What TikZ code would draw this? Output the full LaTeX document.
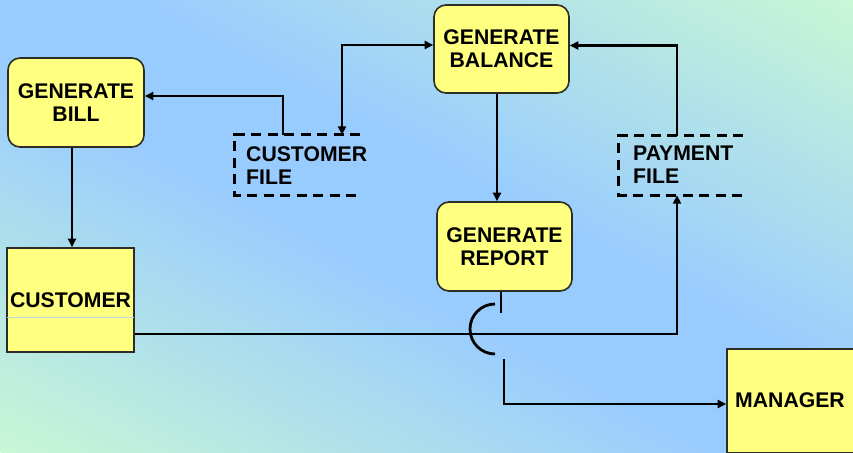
\documentclass[tikz,border=0pt]{standalone}
\usepackage{fontspec}
\setmainfont{Liberation Sans}
\usetikzlibrary{arrows.meta,calc}

\definecolor{bgblue}{RGB}{153,204,254}
\definecolor{bggreen}{RGB}{200,248,212}
\definecolor{boxfill}{RGB}{255,255,128}
\definecolor{boxline}{RGB}{45,45,40}
\definecolor{divider}{RGB}{185,222,228}

\tikzset{
  process/.style={draw=boxline, line width=1.6pt, fill=boxfill, rounded corners=12pt,
    align=center, inner sep=0pt},
  entity/.style={draw=boxline, line width=1.6pt, fill=boxfill, align=center, inner sep=0pt},
  storeframe/.style={inner sep=0pt},
  storetext/.style={align=left, anchor=west, inner sep=0pt},
  dashframe/.style={line width=2.8pt, dash pattern=on 10pt off 6.5pt},
  conn/.style={line width=2.8pt, -{Triangle[length=8.5pt,width=8pt]}},
  twoway/.style={line width=2.8pt, {Triangle[length=8.5pt,width=8pt]}-{Triangle[length=8.5pt,width=8pt]}},
  link/.style={line width=2.8pt}
}

\begin{document}
\begin{tikzpicture}[x=1pt, y=-1pt, font=\bfseries\fontsize{21.2}{23}\selectfont]
  \useasboundingbox (0,0) rectangle (853,452);

  % diagonal background gradient: green in the lower-left and upper-right
  % corners, blue along the other diagonal (built from thin bands)
  \begin{scope}
    \clip (0,0) rectangle (853,452);
    \foreach \i in {0,...,99}{
      \pgfmathsetmacro\ta{\i/100}
      \pgfmathsetmacro\tb{(\i+1.6)/100}
      \pgfmathsetmacro\tm{(\i+0.5)/100}
      \pgfmathsetmacro\p{min(100,100*min(\tm,1-\tm)/0.42)}
      \fill[bgblue!\p!bggreen]
        ({853*\ta-853},{-452*\ta}) -- ({853*\ta+853},{904-452*\ta}) --
        ({853*\tb+853},{904-452*\tb}) -- ({853*\tb-853},{-452*\tb}) -- cycle;
    }
  \end{scope}

  % processes
  \node[process, minimum width=136pt, minimum height=89pt] (bill) at (76,102.5) {GENERATE\\BILL};
  \node[process, minimum width=135pt, minimum height=88pt] (balance) at (501.5,49) {GENERATE\\BALANCE};
  \node[process, minimum width=135pt, minimum height=89pt] (report) at (504.5,246.5) {GENERATE\\REPORT};

  % external entities
  \node[entity, minimum width=127pt, minimum height=104pt] (customer) at (70.5,300) {CUSTOMER};
  \draw[divider, line width=0.8pt] ([yshift=-17pt,xshift=0.9pt]customer.west) -- ([yshift=-17pt,xshift=-0.9pt]customer.east);
  \node[entity, minimum width=128pt, minimum height=104pt] (manager) at (791,401) {};
  \node[inner sep=0pt] (managerlabel) at (790,400.5) {MANAGER};

  % data stores (open on the right)
  \node[storeframe, minimum width=125pt, minimum height=60pt] (custfile) at (297.5,165) {};
  \draw[dashframe] (custfile.north east) -- (custfile.north west) -- (custfile.south west) -- (custfile.south east);
  \node[storetext] (custfilelabel) at (246,166) {CUSTOMER\\FILE};

  \node[storeframe, minimum width=124pt, minimum height=59pt] (payfile) at (681,165.5) {};
  \draw[dashframe] (payfile.north east) -- (payfile.north west) -- (payfile.south west) -- (payfile.south east);
  \node[storetext] (payfilelabel) at (633,165) {PAYMENT\\FILE};

  % data flows
  \draw[conn] ([xshift=-14.5pt]custfile.north) |- ([yshift=6.5pt]bill.east);
  \draw[twoway] ([xshift=44.5pt]custfile.north) |- ([yshift=4pt]balance.west);
  \draw[conn] ([xshift=-4.5pt]balance.south) -- ([xshift=-4.5pt]balance.south |- report.north);
  \draw[conn] ([xshift=-4pt]payfile.north) |- ([yshift=3.5pt]balance.east);
  \draw[conn] ([xshift=-4pt]bill.south) -- ([xshift=-4pt]bill.south |- customer.north);
  \draw[conn] ([yshift=-34pt]customer.east) -| ([xshift=-4pt]payfile.south);

  % report to manager, hopping over the customer line
  \coordinate (hoptop) at (501,313);
  \coordinate (hopbot) at (504,359);
  \draw[link] ([xshift=-3.5pt]report.south) -- (hoptop);
  \draw[link] (495,304) arc[start angle=270, end angle=90, radius=25];
  \draw[conn] (hopbot) |- ([yshift=-3pt]manager.west);
\end{tikzpicture}
\end{document}
